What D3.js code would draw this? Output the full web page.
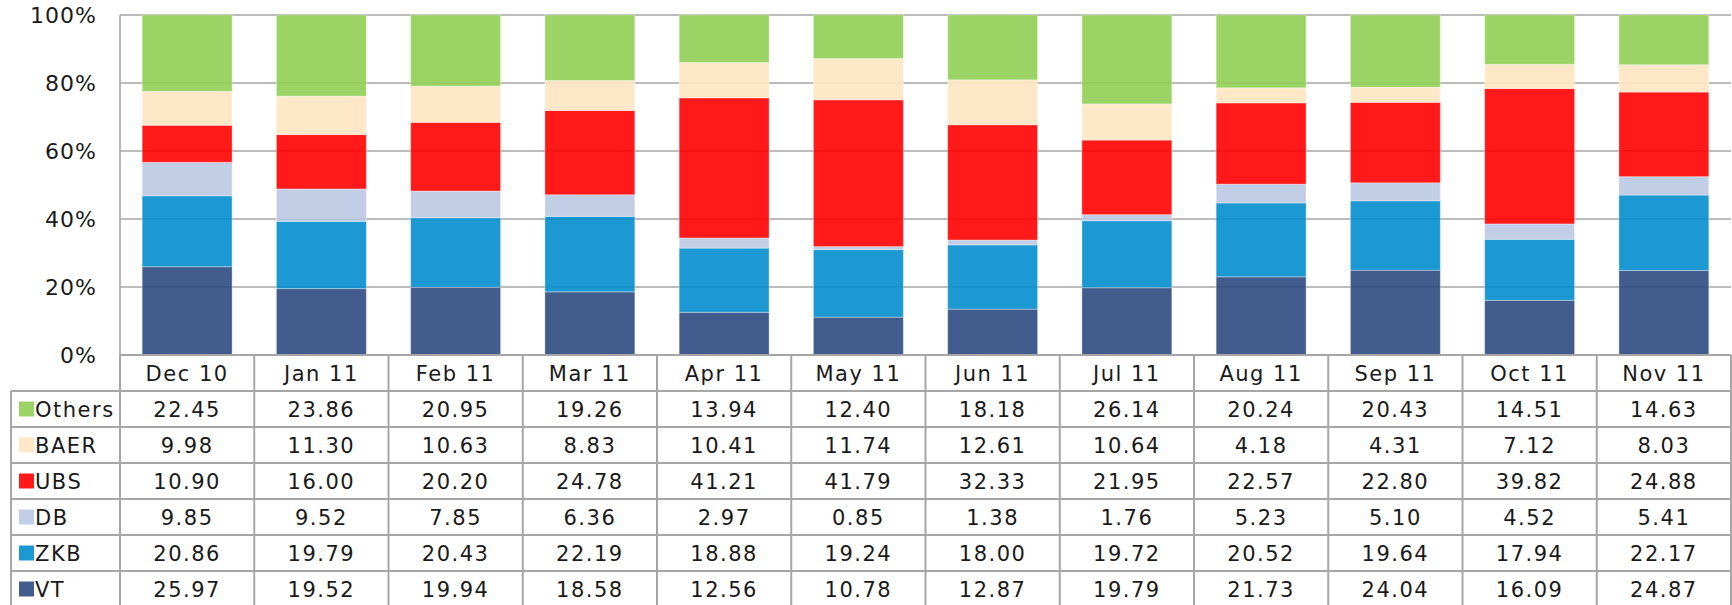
<!DOCTYPE html>
<html>
<head>
<meta charset="utf-8">
<script src="https://cdn.jsdelivr.net/npm/d3@7"></script>
<style>
  body { margin: 0; background: #fff; }
  text { font-family: "DejaVu Sans", Verdana, sans-serif; fill: #1a1a1a; }
</style>
</head>
<body>
<div id="vis-holder"></div>
<script>
// data
const months = ["Dec 10", "Jan 11", "Feb 11", "Mar 11", "Apr 11", "May 11", "Jun 11", "Jul 11", "Aug 11", "Sep 11", "Oct 11", "Nov 11"];
const series = ["Others", "BAER", "UBS", "DB", "ZKB", "VT"];   // table order, top to bottom
const others = [22.45, 23.86, 20.95, 19.26, 13.94, 12.40, 18.18, 26.14, 20.24, 20.43, 14.51, 14.63];
const baer   = [9.98, 11.30, 10.63, 8.83, 10.41, 11.74, 12.61, 10.64, 4.18, 4.31, 7.12, 8.03];
const ubs    = [10.90, 16.00, 20.20, 24.78, 41.21, 41.79, 32.33, 21.95, 22.57, 22.80, 39.82, 24.88];
const db     = [9.85, 9.52, 7.85, 6.36, 2.97, 0.85, 1.38, 1.76, 5.23, 5.10, 4.52, 5.41];
const zkb    = [20.86, 19.79, 20.43, 22.19, 18.88, 19.24, 18.00, 19.72, 20.52, 19.64, 17.94, 22.17];
const vt     = [25.97, 19.52, 19.94, 18.58, 12.56, 10.78, 12.87, 19.79, 21.73, 24.04, 16.09, 24.87];
const yTicks = [0, 0.2, 0.4, 0.6, 0.8, 1];

const values = { Others: others, BAER: baer, UBS: ubs, DB: db, ZKB: zkb, VT: vt };
const colors = { Others: "#90cf53", BAER: "#fee5c2", UBS: "#ff0000", DB: "#bbc8e3", ZKB: "#038dcd", VT: "#2d4b81" };

const width = 1732, height = 605;
const plotLeft = 120, plotRight = 1731, plotTop = 15, plotBottom = 355;
const rowH = 36, labelLeft = 11;
const grey = "#a6a6a6";

const svg = d3.select("#vis-holder")
    .append("svg")
    .attr("width", width)
    .attr("height", height);

const x = d3.scaleBand().domain(months).range([plotLeft, plotRight]).padding(0);
const y = d3.scaleLinear().domain([0, 1]).range([plotBottom, plotTop]);
const barW = x.bandwidth() * 0.67;

// gridlines (under the bars, bars are a bit see-through)
svg.append("g")
    .selectAll("line")
    .data(yTicks.filter(d => d > 0))
    .enter().append("line")
    .attr("x1", plotLeft).attr("x2", plotRight)
    .attr("y1", d => y(d)).attr("y2", d => y(d))
    .attr("stroke", grey)
    .attr("stroke-width", 1.6);

svg.append("line")
    .attr("x1", plotLeft).attr("x2", plotLeft)
    .attr("y1", plotTop).attr("y2", plotBottom)
    .attr("stroke", grey).attr("stroke-width", 1.6);

svg.append("g")
    .selectAll("text")
    .data(yTicks)
    .enter().append("text")
    .attr("x", 97)
    .attr("y", d => y(d))
    .attr("dy", "0.36em")
    .attr("text-anchor", "end")
    .style("font-size", "22px")
    .style("letter-spacing", "1px")
    .text(d3.format(".0%"));

// 100% stacked bars, VT at the bottom
const rows = months.map((m, i) => {
    const r = { month: m };
    series.forEach(s => r[s] = values[s][i]);
    return r;
});
const stack = d3.stack()
    .keys(series.slice().reverse())
    .offset(d3.stackOffsetExpand);
const layers = stack(rows);

svg.append("g")
    .selectAll("g")
    .data(layers)
    .enter().append("g")
    .attr("fill", d => colors[d.key])
    .attr("fill-opacity", 0.9)
    .selectAll("rect")
    .data(d => d)
    .enter().append("rect")
    .attr("x", d => x(d.data.month) + (x.bandwidth() - barW) / 2)
    .attr("width", barW)
    .attr("y", d => y(d[1]))
    .attr("height", d => y(d[0]) - y(d[1]))
    .attr("stroke", "#fff")
    .attr("stroke-opacity", 0.35)
    .attr("stroke-width", 1);

// data table underneath
const table = svg.append("g");
const nRows = series.length;
const tableBottom = plotBottom + rowH * (nRows + 1);

// horizontal lines
const hLines = d3.range(nRows + 2).map(i => plotBottom + i * rowH);
table.selectAll("line.h")
    .data(hLines)
    .enter().append("line")
    .attr("class", "h")
    .attr("x1", (d, i) => i === 0 ? plotLeft : labelLeft)
    .attr("x2", plotRight)
    .attr("y1", d => d).attr("y2", d => d)
    .attr("stroke", grey).attr("stroke-width", 2);

// vertical lines
const vLines = months.map(m => x(m)).concat([plotRight]);
table.selectAll("line.v")
    .data(vLines)
    .enter().append("line")
    .attr("class", "v")
    .attr("x1", d => d).attr("x2", d => d)
    .attr("y1", plotBottom).attr("y2", tableBottom)
    .attr("stroke", grey).attr("stroke-width", 2);

table.append("line")
    .attr("x1", labelLeft).attr("x2", labelLeft)
    .attr("y1", plotBottom + rowH).attr("y2", tableBottom)
    .attr("stroke", grey).attr("stroke-width", 2);

// month header
table.selectAll("text.month")
    .data(months)
    .enter().append("text")
    .attr("class", "month")
    .attr("x", d => x(d) + x.bandwidth() / 2)
    .attr("y", plotBottom + rowH / 2)
    .attr("dy", "0.36em")
    .attr("text-anchor", "middle")
    .style("font-size", "21px")
    .style("letter-spacing", "1.5px")
    .text(d => d);

// series rows
const tRows = table.selectAll("g.row")
    .data(series)
    .enter().append("g")
    .attr("class", "row")
    .attr("transform", (d, i) => "translate(0," + (plotBottom + rowH * (i + 1)) + ")");

tRows.append("rect")
    .attr("x", 19)
    .attr("y", rowH / 2 - 7.5)
    .attr("width", 15)
    .attr("height", 15)
    .attr("fill", d => colors[d])
    .attr("fill-opacity", 0.9);

tRows.append("text")
    .attr("x", 35)
    .attr("y", rowH / 2)
    .attr("dy", "0.36em")
    .style("font-size", "21px")
    .style("letter-spacing", "1.5px")
    .text(d => d);

tRows.selectAll("text.val")
    .data(s => values[s].map((v, i) => ({ month: months[i], v: v })))
    .enter().append("text")
    .attr("class", "val")
    .attr("x", d => x(d.month) + x.bandwidth() / 2)
    .attr("y", rowH / 2)
    .attr("dy", "0.36em")
    .attr("text-anchor", "middle")
    .style("font-size", "21px")
    .style("letter-spacing", "1.5px")
    .text(d => d.v.toFixed(2));
</script>
</body>
</html>
